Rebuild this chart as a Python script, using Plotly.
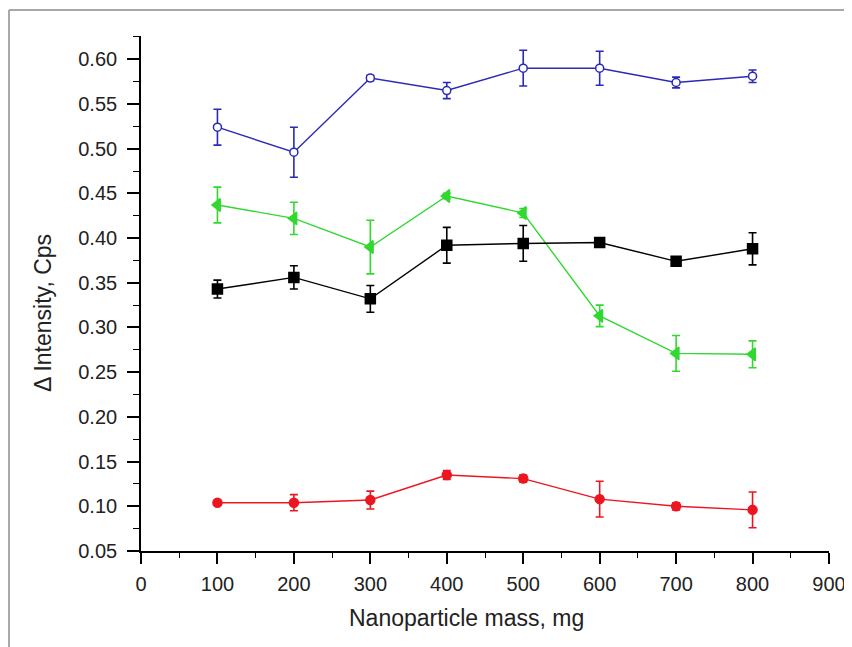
import plotly.graph_objects as go

mass = [100, 200, 300, 400, 500, 600, 700, 800]

blue_vals = [0.524, 0.496, 0.579, 0.565, 0.590, 0.590, 0.574, 0.581]
blue_err = [0.020, 0.028, 0.003, 0.009, 0.020, 0.019, 0.006, 0.007]

green_vals = [0.437, 0.422, 0.390, 0.447, 0.428, 0.313, 0.271, 0.270]
green_err = [0.020, 0.018, 0.030, 0.003, 0.005, 0.012, 0.020, 0.015]

black_vals = [0.343, 0.356, 0.332, 0.392, 0.394, 0.395, 0.374, 0.388]
black_err = [0.010, 0.013, 0.015, 0.020, 0.020, 0.000, 0.002, 0.018]

red_vals = [0.104, 0.104, 0.107, 0.135, 0.131, 0.108, 0.100, 0.096]
red_err = [0.002, 0.009, 0.010, 0.005, 0.004, 0.020, 0.004, 0.020]

x_ticks = [0, 100, 200, 300, 400, 500, 600, 700, 800, 900]
y_ticks = [0.05, 0.10, 0.15, 0.20, 0.25, 0.30, 0.35, 0.40, 0.45, 0.50, 0.55, 0.60]

x_title = "Nanoparticle mass, mg"
y_title = "\u0394 Intensity, Cps"

FONT = "Liberation Sans, Arial, sans-serif"

fig = go.Figure()


def add_series(vals, err, color, symbol, size, fill):
    fig.add_trace(go.Scatter(
        x=mass, y=vals, mode="lines+markers",
        line=dict(color=color, width=1.4),
        marker=dict(symbol=symbol, size=size,
                    color=color if fill else "white",
                    line=dict(color=color, width=1.5)),
        error_y=dict(type="data", array=err, visible=True,
                     color=color, thickness=1.6, width=4),
        showlegend=False,
    ))


add_series(blue_vals, blue_err, "#2a2ab4", "circle", 8, False)
add_series(green_vals, green_err, "#30d830", "triangle-left", 11, True)
add_series(black_vals, black_err, "#000000", "square", 10, True)
add_series(red_vals, red_err, "#ec1620", "circle", 9, True)

axis_common = dict(
    showgrid=False, zeroline=False, showline=True, linecolor="black",
    linewidth=1.6, ticks="outside", tickwidth=1.6,
    tickcolor="black", mirror=False, automargin=False,
    ticklabeloverflow="allow",
    tickfont=dict(family=FONT, size=20, color="#222222"),
)

fig.update_xaxes(
    range=[0, 900], tickvals=x_ticks, ticktext=[str(v) for v in x_ticks],
    ticklen=11, ticklabelstandoff=3,
    **axis_common,
)
fig.update_xaxes(minor=dict(ticks="outside", ticklen=5, tickwidth=1.3,
                            tickcolor="black", dtick=50))

fig.update_yaxes(
    range=[0.05, 0.626], tickvals=y_ticks,
    ticktext=["%.2f" % v for v in y_ticks],
    ticklen=12, ticklabelstandoff=6,
    **axis_common,
)
fig.update_yaxes(minor=dict(ticks="outside", ticklen=6, tickwidth=1.3,
                            tickcolor="black", tick0=0.025, dtick=0.05))

fig.update_layout(
    width=844, height=639,
    margin=dict(l=133, r=23, t=28, b=96),
    paper_bgcolor="white", plot_bgcolor="white",
    annotations=[
        dict(text=x_title, xref="paper", yref="paper", x=0.4738, y=-0.1301,
             xanchor="center", yanchor="middle", showarrow=False,
             font=dict(family=FONT, size=23, color="#222222")),
        dict(text=y_title, xref="paper", yref="paper", x=-0.1424, y=0.4621,
             xanchor="center", yanchor="middle", showarrow=False,
             textangle=-90,
             font=dict(family=FONT, size=23, color="#222222")),
    ],
    shapes=[
        dict(type="line", xref="paper", yref="paper",
             x0=-0.1919, x1=-0.1919, y0=-0.2, y1=1.0505,
             line=dict(color="#a8a8a8", width=2)),
        dict(type="line", xref="paper", yref="paper",
             x0=-0.1919, x1=1.1, y0=1.0505, y1=1.0505,
             line=dict(color="#a8a8a8", width=2)),
    ],
)

fig.write_html("out.html")
